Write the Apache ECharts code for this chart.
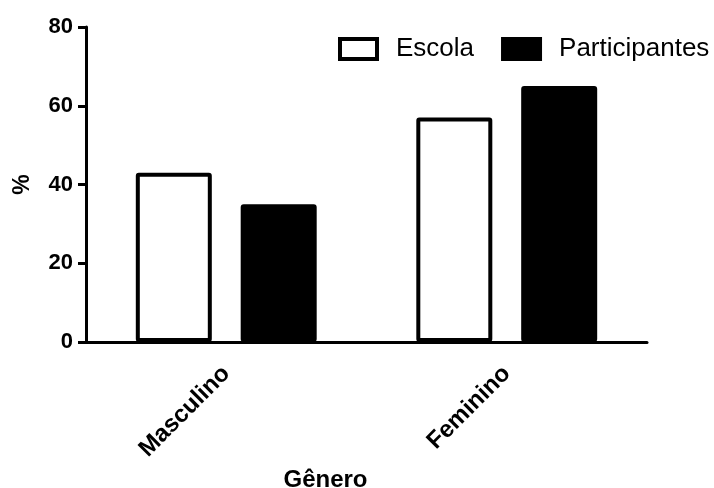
<!DOCTYPE html>
<html><head><meta charset="utf-8">
<script src="https://cdn.jsdelivr.net/npm/echarts@6/dist/echarts.min.js"></script>
<style>html,body{margin:0;padding:0;background:#fff}#c{width:714px;height:488px}</style>
</head><body><div id="c"></div>
<script>
const categories = ['Masculino', 'Feminino'];
const escola = [43, 57];
const participantes = [35, 65];
const yTicks = [0, 20, 40, 60, 80];

const FONT = '"Liberation Sans", Arial, sans-serif';
const chart = echarts.init(document.getElementById('c'), null, {renderer: 'canvas'});
chart.setOption({
  animation: false,
  backgroundColor: '#fff',
  textStyle: {fontFamily: FONT},
  grid: {left: 86, right: 67, top: 27, bottom: 146, containLabel: false, outerBoundsMode: 'none'},
  legend: {
    left: 338, top: 36, padding: 0,
    itemWidth: 37, itemHeight: 20, itemGap: 27,
    textStyle: {fontFamily: FONT, fontSize: 26, color: '#000', padding: [0, 0, 0, 14]},
    data: [
      {name: 'Escola', icon: 'rect', itemStyle: {color: '#fff', borderColor: '#000', borderWidth: 4}},
      {name: 'Participantes', icon: 'rect', itemStyle: {color: '#000', borderColor: '#000', borderWidth: 4}}
    ]
  },
  xAxis: {
    type: 'category',
    data: categories,
    name: 'Gênero',
    nameLocation: 'middle',
    nameGap: 124,
    nameTextStyle: {fontFamily: FONT, fontSize: 24, fontWeight: 'bold', color: '#000', padding: [0, 82, 0, 0]},
    axisLine: {lineStyle: {color: '#000', width: 3}},
    axisTick: {alignWithLabel: true, length: 7, lineStyle: {color: '#000', width: 3}},
    axisLabel: {rotate: 45, margin: 28, fontFamily: FONT, fontSize: 24, fontWeight: 'bold', color: '#000'}
  },
  yAxis: {
    type: 'value',
    min: yTicks[0], max: yTicks[yTicks.length - 1], interval: 20,
    name: '%',
    nameLocation: 'middle',
    nameGap: 52,
    nameTextStyle: {fontFamily: FONT, fontSize: 23, fontWeight: 'bold', color: '#000'},
    splitLine: {show: false},
    axisLine: {show: true, lineStyle: {color: '#000', width: 3}},
    axisTick: {show: true, length: 8, lineStyle: {color: '#000', width: 3}},
    axisLabel: {margin: 13, fontFamily: FONT, fontSize: 22, fontWeight: 'bold', color: '#000'}
  },
  series: [
    {name: 'Escola', type: 'bar', data: escola, barWidth: 76, barGap: '38%',
     itemStyle: {color: '#fff', borderColor: '#000', borderWidth: 4, borderRadius: 1}},
    {name: 'Participantes', type: 'bar', data: participantes, barWidth: 76,
     itemStyle: {color: '#000', borderColor: '#000', borderWidth: 4, borderRadius: 1}}
  ]
});
</script></body></html>
